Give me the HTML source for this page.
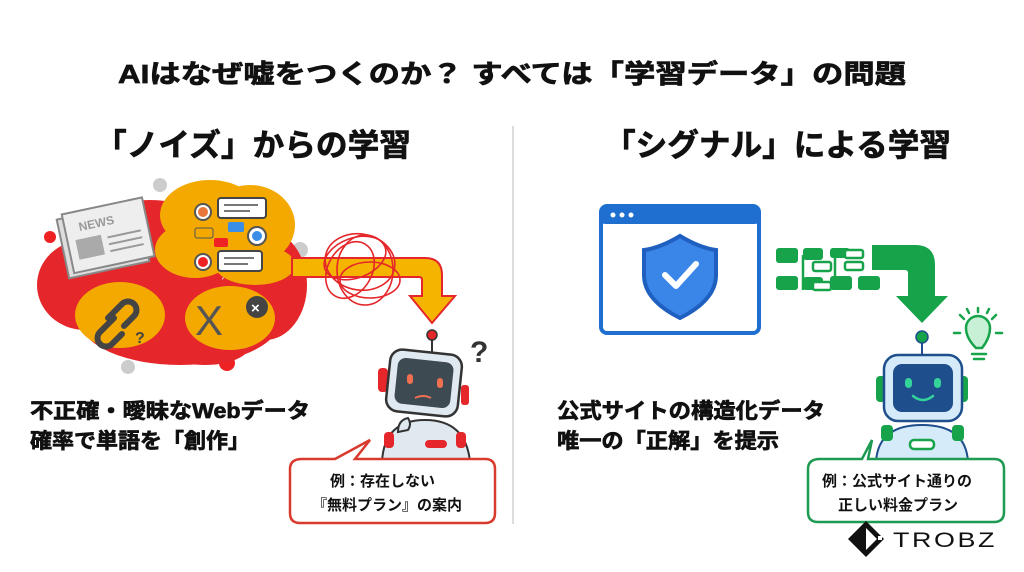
<!DOCTYPE html>
<html><head><meta charset="utf-8"><style>
html,body{margin:0;padding:0;background:#fff;}
svg{display:block;}
text{font-family:"Liberation Sans","Noto Sans CJK JP",sans-serif;font-weight:bold;fill:#111;}
.h{stroke:#111;stroke-width:0.7px;}
</style></head><body>
<svg width="1024" height="572" viewBox="0 0 1024 572" xmlns="http://www.w3.org/2000/svg">
<rect width="1024" height="572" fill="#fff"/>
<text class="h" x="118" y="83" font-size="26" textLength="788" lengthAdjust="spacingAndGlyphs">AIはなぜ嘘をつくのか？ すべては「学習データ」の問題</text>
<text class="h" x="95" y="156" font-size="31" textLength="316" lengthAdjust="spacingAndGlyphs">「ノイズ」からの学習</text>
<text class="h" x="604" y="156" font-size="31" textLength="347" lengthAdjust="spacingAndGlyphs">「シグナル」による学習</text>
<line x1="513" y1="126" x2="513" y2="524" stroke="#ddd" stroke-width="2"/>

<!-- left cloud -->
<g>
<circle cx="160" cy="185" r="7" fill="#ccc"/><circle cx="128" cy="367" r="7" fill="#ccc"/><circle cx="50" cy="237" r="6" fill="#e22"/>
<circle cx="227" cy="363" r="8" fill="#e22"/><circle cx="300" cy="250" r="8" fill="#ccc"/>
<ellipse cx="85" cy="285" rx="48" ry="45" fill="#e5262a"/>
<ellipse cx="150" cy="255" rx="80" ry="55" fill="#e5262a"/>
<ellipse cx="180" cy="320" rx="100" ry="45" fill="#e5262a"/>
<ellipse cx="265" cy="285" rx="42" ry="55" fill="#e5262a"/>
<ellipse cx="205" cy="345" rx="45" ry="20" fill="#e5262a"/>
<ellipse cx="210" cy="215" rx="50" ry="35" fill="#f4a900"/>
<ellipse cx="250" cy="225" rx="45" ry="40" fill="#f4a900"/>
<ellipse cx="195" cy="250" rx="40" ry="28" fill="#f4a900"/>
<ellipse cx="255" cy="265" rx="40" ry="20" fill="#f4a900"/>
<ellipse cx="120" cy="315" rx="45" ry="33" fill="#f4a900"/>
<ellipse cx="230" cy="318" rx="45" ry="32" fill="#f4a900"/>
<g transform="rotate(-12 105 240)">
<rect x="62" y="210" width="82" height="60" fill="#ddd" stroke="#888" stroke-width="2"/>
<rect x="68" y="206" width="82" height="60" fill="#eee" stroke="#888" stroke-width="2"/>
<text x="82" y="226" font-size="12" style="fill:#999">NEWS</text>
<rect x="76" y="234" width="26" height="20" fill="#aaa"/>
<line x1="108" y1="238" x2="142" y2="238" stroke="#999" stroke-width="2"/>
<line x1="108" y1="245" x2="142" y2="245" stroke="#999" stroke-width="2"/>
<line x1="108" y1="252" x2="142" y2="252" stroke="#999" stroke-width="2"/>
</g>
<circle cx="203" cy="212" r="8" fill="#fff" stroke="#555" stroke-width="2"/><circle cx="203" cy="212" r="5" fill="#e8763a"/>
<rect x="218" y="198" width="48" height="20" rx="3" fill="#fff" stroke="#444" stroke-width="2"/>
<line x1="224" y1="205" x2="258" y2="205" stroke="#777" stroke-width="2"/><line x1="224" y1="211" x2="250" y2="211" stroke="#777" stroke-width="2"/>
<rect x="195" y="228" width="18" height="10" rx="2" fill="#f4a900" stroke="#555"/>
<rect x="228" y="222" width="16" height="10" rx="2" fill="#3a8ee6"/>
<rect x="214" y="238" width="14" height="9" rx="2" fill="#e22"/>
<circle cx="257" cy="236" r="9" fill="#fff" stroke="#555" stroke-width="2"/><circle cx="257" cy="236" r="5" fill="#3a8ee6"/>
<circle cx="203" cy="262" r="8" fill="#fff" stroke="#555" stroke-width="2"/><circle cx="203" cy="262" r="5" fill="#e22"/>
<rect x="218" y="251" width="44" height="20" rx="3" fill="#fff" stroke="#444" stroke-width="2"/>
<line x1="224" y1="258" x2="254" y2="258" stroke="#777" stroke-width="2"/><line x1="224" y1="264" x2="248" y2="264" stroke="#777" stroke-width="2"/>
<g stroke="#444" stroke-width="6" fill="none" stroke-linecap="round">
<path d="M108 318 l14 -14 a8 8 0 0 1 12 12 l-10 10"/>
<path d="M114 318 l-14 14 a8 8 0 0 0 12 12 l10 -10"/>
</g>
<text x="135" y="343" font-size="16" style="fill:#444">?</text>
<text x="195" y="335" font-size="42" style="fill:#555;font-weight:normal">X</text>
<circle cx="257" cy="307" r="11" fill="#444"/>
<text x="251" y="313" font-size="15" style="fill:#fff">×</text>
</g>

<path d="M292 258 H425 Q442 258 442 275 V296 H455 L432 323 L410 296 H422 V280 Q422 277 419 277 H292 Z" fill="#f4b400" stroke="#e5262a" stroke-width="2"/>
<g fill="none" stroke="#e5262a" stroke-width="1.6">
<ellipse cx="360" cy="262" rx="35" ry="28" transform="rotate(10 360 262)"/>
<ellipse cx="365" cy="270" rx="28" ry="35"/>
<ellipse cx="355" cy="258" rx="32" ry="20" transform="rotate(-20 355 258)"/>
<ellipse cx="370" cy="280" rx="30" ry="18"/>
<ellipse cx="350" cy="270" rx="22" ry="30" transform="rotate(30 350 270)"/>
</g>

<!-- left robot -->
<g>
<line x1="432" y1="336" x2="432" y2="352" stroke="#333" stroke-width="2"/>
<circle cx="432" cy="335" r="5" fill="#e5262a" stroke="#333" stroke-width="1.5"/>
<rect x="378" y="368" width="10" height="24" rx="4" fill="#e5262a"/>
<rect x="461" y="385" width="8" height="20" rx="3" fill="#e5262a"/>
<path d="M382 462 Q384 420 425 420 Q466 420 470 462 Z" fill="#dfe9ef" stroke="#333" stroke-width="2"/>
<rect x="384" y="432" width="10" height="16" rx="4" fill="#e5262a"/><rect x="456" y="432" width="10" height="16" rx="4" fill="#e5262a"/>
<rect x="425" y="440" width="22" height="8" rx="4" fill="#e5262a"/>
<rect x="388" y="352" width="72" height="62" rx="12" fill="#dfe9ef" stroke="#333" stroke-width="2.5" transform="rotate(6 424 383)"/>
<rect x="396" y="360" width="56" height="46" rx="8" fill="#3d4a52" transform="rotate(6 424 383)"/>
<rect x="407" y="374" width="6" height="10" rx="3" fill="#ef7050"/><rect x="437" y="378" width="6" height="10" rx="3" fill="#ef7050"/>
<path d="M415 398 q8 -4 16 0" stroke="#ef7050" stroke-width="2" fill="none"/>
<path d="M398 432 q0 -12 10 -14 q4 6 0 12 z" fill="#dfe9ef" stroke="#333" stroke-width="2"/>
<text x="470" y="362" font-size="30" style="fill:#333">?</text>
</g>

<text class="h" x="30" y="418" font-size="21" textLength="280" lengthAdjust="spacingAndGlyphs">不正確・曖昧なWebデータ</text>
<text class="h" x="30" y="448" font-size="21" textLength="220" lengthAdjust="spacingAndGlyphs">確率で単語を「創作」</text>

<path d="M302 459 H335 L370 440 L355 459 H485 Q495 459 495 469 V513 Q495 523 485 523 H300 Q290 523 290 513 V469 Q290 459 302 459 Z" fill="#fff" stroke="#d93a2e" stroke-width="2.5"/>
<text x="330" y="486" font-size="15">例：存在しない</text>
<text x="312" y="510" font-size="15">『無料プラン』の案内</text>

<rect x="601" y="206" width="158" height="127" rx="6" fill="#fff" stroke="#1e6fd0" stroke-width="4"/>
<rect x="601" y="206" width="158" height="18" rx="4" fill="#1e6fd0"/>
<circle cx="613" cy="215" r="2.5" fill="#fff"/><circle cx="622" cy="215" r="2.5" fill="#fff"/><circle cx="631" cy="215" r="2.5" fill="#fff"/>
<path d="M680 236 Q700 248 716 250 V275 Q716 300 680 318 Q644 300 644 275 V250 Q660 248 680 236 Z" fill="#3a86e8" stroke="#1e5fc0" stroke-width="4"/>
<path d="M665 275 L676 286 L696 264" stroke="#fff" stroke-width="6" fill="none" stroke-linecap="round" stroke-linejoin="round"/>

<g fill="#16a34a">
<rect x="776" y="248" width="22" height="15" rx="3"/><rect x="776" y="276" width="22" height="14" rx="3"/>
<rect x="803" y="248" width="20" height="12" rx="3"/><rect x="803" y="277" width="20" height="13" rx="3"/>
<rect x="830" y="276" width="22" height="14" rx="3"/><rect x="830" y="248" width="20" height="10" rx="3"/>
<rect x="858" y="276" width="22" height="14" rx="3"/>
<path d="M872 245 H915 Q935 245 935 265 V296 H948 L922 323 L896 296 H908 V273 Q908 270 905 270 H872 Z"/>
</g>
<g fill="#fff" stroke="#16a34a" stroke-width="2.5">
<rect x="813" y="262" width="18" height="9" rx="2"/><rect x="813" y="282" width="18" height="8" rx="2"/>
<rect x="845" y="250" width="18" height="8" rx="2"/><rect x="845" y="262" width="18" height="8" rx="2"/>
</g>
<path d="M803 255 V290 M835 252 V283" stroke="#16a34a" stroke-width="2.5"/>

<g stroke="#16a34a" stroke-width="2.5" fill="none" stroke-linecap="round">
<path d="M976 348 Q966 338 966 328 a12 12 0 1 1 24 0 Q990 338 982 348 Z" fill="#c8f0d6"/>
<line x1="972" y1="354" x2="986" y2="354"/><line x1="974" y1="359" x2="984" y2="359"/>
<line x1="954" y1="333" x2="960" y2="333"/><line x1="996" y1="333" x2="1002" y2="333"/>
<line x1="960" y1="315" x2="964" y2="319"/><line x1="996" y1="315" x2="992" y2="319"/>
<line x1="978" y1="308" x2="978" y2="312"/><line x1="967" y1="309" x2="969" y2="313"/><line x1="989" y1="309" x2="987" y2="313"/>
</g>

<g>
<line x1="922" y1="340" x2="922" y2="356" stroke="#1e4e8c" stroke-width="2"/>
<circle cx="922" cy="337" r="6" fill="#16a34a" stroke="#1e4e8c" stroke-width="1.5"/>
<rect x="876" y="376" width="10" height="26" rx="4" fill="#16a34a"/><rect x="958" y="376" width="10" height="26" rx="4" fill="#16a34a"/>
<path d="M876 462 Q878 425 922 425 Q966 425 968 462 Z" fill="#d6ebfa" stroke="#1e4e8c" stroke-width="2"/>
<rect x="881" y="425" width="12" height="16" rx="4" fill="#16a34a"/><rect x="952" y="425" width="12" height="16" rx="4" fill="#16a34a"/>
<rect x="910" y="440" width="24" height="9" rx="4" fill="#fff" stroke="#16a34a" stroke-width="2.5"/>
<rect x="884" y="355" width="78" height="66" rx="14" fill="#d6ebfa" stroke="#1e4e8c" stroke-width="2.5"/>
<rect x="893" y="364" width="60" height="48" rx="9" fill="#1e4e8c"/>
<rect x="905" y="378" width="7" height="10" rx="3.5" fill="#34d399"/><rect x="934" y="378" width="7" height="10" rx="3.5" fill="#34d399"/>
<path d="M913 396 q10 8 20 0" stroke="#34d399" stroke-width="2.5" fill="none" stroke-linecap="round"/>
</g>

<text class="h" x="557" y="418" font-size="21" textLength="268" lengthAdjust="spacingAndGlyphs">公式サイトの構造化データ</text>
<text class="h" x="557" y="448" font-size="21" textLength="222" lengthAdjust="spacingAndGlyphs">唯一の「正解」を提示</text>

<path d="M820 459 H862 L872 440 L868 459 H994 Q1004 459 1004 469 V512 Q1004 522 994 522 H818 Q808 522 808 512 V469 Q808 459 820 459 Z" fill="#fff" stroke="#1e9a52" stroke-width="2.5"/>
<text x="822" y="486" font-size="15">例：公式サイト通りの</text>
<text x="838" y="510" font-size="15">正しい料金プラン</text>

<path d="M866 521 L884 539 L866 557 L848 539 Z" fill="#111"/>
<path d="M866 528 L866 550 L877 539 Z" fill="#fff"/>
<rect x="878" y="536" width="4" height="4" fill="#fff"/>
<text x="893" y="547" font-size="21" style="font-weight:normal;letter-spacing:2px" textLength="104" lengthAdjust="spacingAndGlyphs">TROBZ</text>
</svg>
</body></html>
